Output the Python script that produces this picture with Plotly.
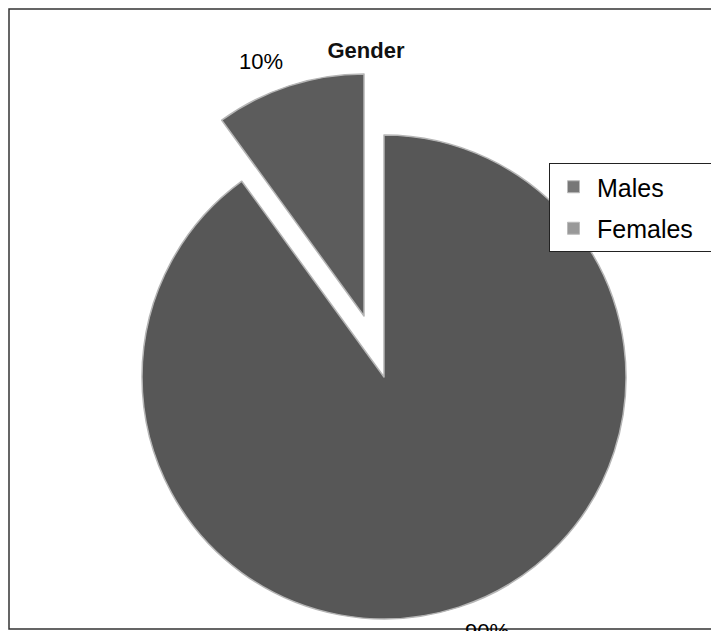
import math
import plotly.graph_objects as go

# ---- data ----
labels = ["Males", "Females"]
values = [90, 10]
title_text = "Gender"

total = sum(values)
pct_text = [f"{v / total * 100:.0f}%" for v in values]

W, H = 719, 631
OFF = 8  # page body margin compensation
males_col = "#575757"
females_col = "#5c5c5c"
edge_col = "#b5b5b5"
font_family = "Liberation Sans, Arial, sans-serif"

R = 242
centers = [(384 - OFF, 377 - OFF), (364 - OFF, 316 - OFF)]  # Males, exploded Females


def dom(cx, cy, r):
    return dict(x=[(cx - r) / W, (cx + r) / W], y=[1 - (cy + r) / H, 1 - (cy - r) / H])


fig = go.Figure()
slice_cols = [males_col, females_col]
for k in range(len(labels)):
    cols = ["rgba(0,0,0,0)"] * len(labels)
    lines = ["rgba(0,0,0,0)"] * len(labels)
    cols[k] = slice_cols[k]
    lines[k] = edge_col
    fig.add_trace(go.Pie(
        labels=labels, values=values, sort=False, direction="clockwise", rotation=0,
        marker=dict(colors=cols, line=dict(color=lines, width=1.5)),
        textinfo="none", domain=dom(*centers[k], R),
        showlegend=False, hoverinfo="label+percent",
    ))

# percentage labels placed along each slice's bisector
annotations = []
cum = 0
for k, v in enumerate(values):
    mid = (cum + v / 2) / total * 2 * math.pi
    cum += v
    cx, cy = centers[k]
    s, c = math.sin(mid), math.cos(mid)
    px = cx + 268 * s + 20 * (1 if s > 0 else -1)
    py = cy - 268 * c
    annotations.append(dict(text=pct_text[k], x=px / W, y=1 - py / H,
                            xref="paper", yref="paper", showarrow=False,
                            xanchor="center", yanchor="middle",
                            font=dict(size=22, color="black", family=font_family)))

# legend entries
leg_cols = ["#777777", "#999999"]
leg_names = ["Males", "Females\u00a0\u00a0"]
for lab, col in zip(leg_names, leg_cols):
    fig.add_trace(go.Scatter(
        x=[None], y=[None], mode="markers", name=lab, legendgroup=lab,
        marker=dict(symbol="square", size=12, color=col, line=dict(color="#bbbbbb", width=1)),
    ))

fig.update_layout(
    width=W, height=H,
    margin=dict(l=0, r=0, t=0, b=0),
    paper_bgcolor="white", plot_bgcolor="rgba(0,0,0,0)",
    font=dict(family=font_family, color="black"),
    title=dict(text=f"<b>{title_text}</b>", x=(366 - OFF) / W, y=1 - (50 - OFF) / H,
               xanchor="center", yanchor="middle",
               font=dict(size=22, family=font_family, color="#111")),
    xaxis=dict(visible=False), yaxis=dict(visible=False),
    legend=dict(x=(549 - OFF) / W, y=1 - (163 - OFF) / H, xanchor="left", yanchor="top",
                font=dict(size=25, family=font_family, color="black"),
                bordercolor="#222", borderwidth=1, bgcolor="white",
                tracegroupgap=6, itemwidth=37),
    annotations=annotations,
    shapes=[dict(type="rect", xref="paper", yref="paper",
                 x0=1 / W, x1=1.05, y0=1 - (629 - OFF) / H, y1=1 - 1 / H,
                 line=dict(color="#333", width=1.5))],
)

fig.write_html("out.html")
